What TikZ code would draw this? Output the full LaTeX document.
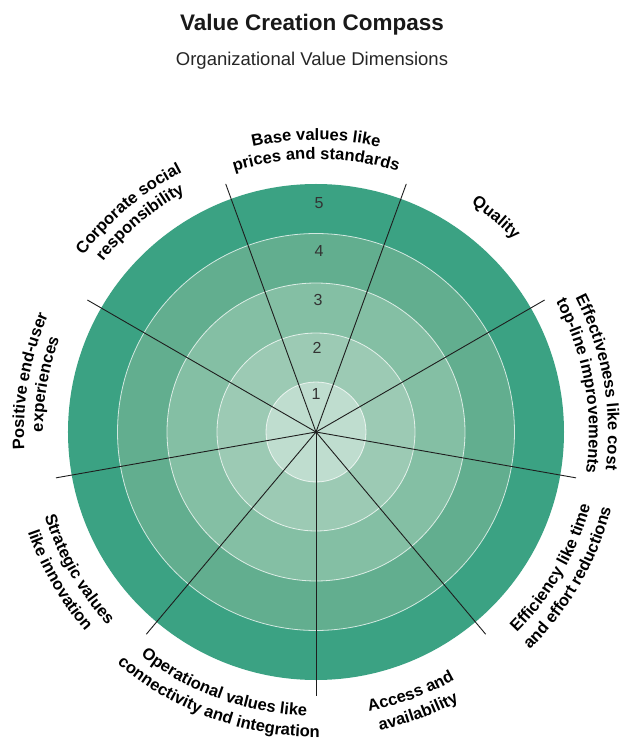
\documentclass[tikz,border=0pt]{standalone}
\usepackage{fontspec}
\setmainfont{Liberation Sans}
\usetikzlibrary{decorations.text}
\definecolor{ringE}{HTML}{3BA283}
\definecolor{ringD}{HTML}{62AE8F}
\definecolor{ringC}{HTML}{84BFA4}
\definecolor{ringB}{HTML}{9CCAB4}
\definecolor{ringA}{HTML}{BFDDCF}
\definecolor{inkdark}{HTML}{1E1E1E}
\newcommand{\lblfont}{\bfseries\fontsize{16.5}{18}\selectfont}
\newcommand{\topline}[3]{%
  \path[decorate,decoration={text along path,text align=center,text={|\lblfont|#3}}]
    ({#1+40}:#2) arc[start angle={#1+40}, end angle={#1-40}, radius=#2];}
\newcommand{\botline}[3]{%
  \path[decorate,decoration={text along path,text align=center,text={|\lblfont|#3}}]
    ({#1-40}:#2) arc[start angle={#1-40}, end angle={#1+40}, radius=#2];}
\tikzset{
  ringborder/.style={draw=white, draw opacity=0.75, line width=0.8pt},
  spoke/.style={draw=inkdark, line width=0.9pt},
  numlabel/.style={font=\fontsize{16}{18}\selectfont, text=black!80, inner sep=0pt},
}
\begin{document}
\begin{tikzpicture}[x=1pt,y=1pt]
\useasboundingbox (-316,-315) rectangle (311,432);
\fill[white] (-316,-315) rectangle (311,432);
% title
\node[font=\bfseries\fontsize{22.5}{26}\selectfont, anchor=base, text=black!90] (title) at (-4,401) {Value Creation Compass};
\node[font=\fontsize{18.5}{22}\selectfont, anchor=base, text=black!85] (subtitle) at (-4,366) {Organizational Value Dimensions};
% rings
\fill[ringE] (0,0) circle[radius=248];
\fill[ringD, ringborder] (0,0) circle[radius=198.5];
\fill[ringC, ringborder] (0,0) circle[radius=149];
\fill[ringB, ringborder] (0,0) circle[radius=99];
\fill[ringA, ringborder] (0,0) circle[radius=50];
% numbers
\node[numlabel] (n5) at (3,229) {5};
\node[numlabel] (n4) at (3,181) {4};
\node[numlabel] (n3) at (2,132) {3};
\node[numlabel] (n2) at (1,84) {2};
\node[numlabel] (n1) at (0,38) {1};
% spokes
\coordinate (c) at (0,0);
\foreach \a in {70,30,-10,-50,-90,-130,-170,150,110}
  \draw[spoke] (c) -- (\a:264);
\fill[inkdark] (c) circle[radius=1.6];
% labels
\topline{90}{292}{Base values like}
\topline{90}{273}{prices and standards}
\topline{50}{276}{Quality}
\topline{10}{292}{Effectiveness like cost}
\topline{10}{273}{top-line improvements}
\botline{-30}{284}{Efficiency like time}
\botline{-30}{305}{and effort reductions}
\botline{-70}{284}{Access and}
\botline{-70}{305}{availability}
\botline{-110}{284}{Operational values like}
\botline{-110}{305}{connectivity and integration}
\botline{-150}{284}{Strategic values}
\botline{-150}{305}{like innovation}
\topline{170}{292}{Positive end-user}
\topline{170}{273}{experiences}
\topline{130}{292}{Corporate social}
\topline{130}{273}{responsibility}
\end{tikzpicture}
\end{document}
